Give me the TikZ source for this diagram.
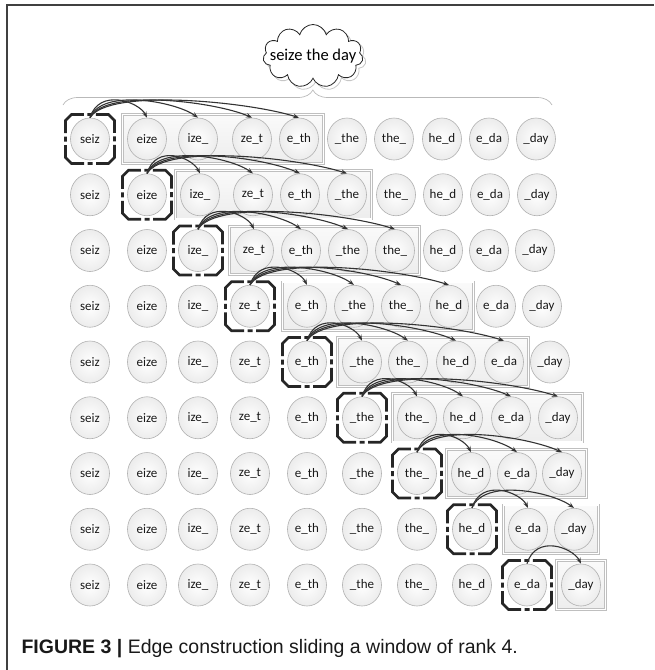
\documentclass[tikz,border=0pt]{standalone}
\usepackage{fontspec}
\setmainfont{Carlito}
\newfontfamily\capfont{Liberation Sans}
\usetikzlibrary{arrows.meta, shapes.symbols, shapes.geometric, shadows, backgrounds, fit, calc, decorations.pathreplacing}

\newcommand\gramlabel[1]{\ifcase#1\or seiz\or eize\or ize\_\or ze\_t\or e\_th\or \_the\or the\_\or he\_d\or e\_da\or \_day\fi}

\tikzset{
  gram/.style={ellipse, draw=gray!60, line width=0.6pt, inner color=white, outer color=gray!15,
    minimum width=39pt, minimum height=42pt, inner sep=0pt, text=black!90, font=\fontsize{13}{15}\selectfont},
  winbox/.style={rectangle, draw=gray!50, double=white, double distance=1.3pt, line width=0.75pt,
    top color=gray!4, bottom color=gray!14, inner xsep=5pt, inner ysep=3pt},
  focusbox/.style={draw=black!85, line width=2.8pt, dash pattern=on 5pt off 3.5pt on 33.5pt off 3.5pt, dash phase=2.5pt},
  edge/.style={draw=black!80, line width=1.1pt, -{Stealth[length=6pt,width=4.5pt]}},
}

\begin{document}
\begin{tikzpicture}[x=1pt, y=1pt]
  \useasboundingbox (0,0) rectangle (654,-670);
  % frame
  \draw[black!75, line width=1.3pt] (7,-670) -- (7,-5) -- (654,-5);

  % phrase and brace
  \node[cloud, cloud puffs=11, cloud ignores aspect, minimum width=100pt, minimum height=63pt,
    draw=black!85, line width=0.8pt, fill=white,
    general shadow={shadow xshift=3pt, shadow yshift=-3pt, draw=gray!45, fill=white, line width=0.8pt},
    label={[font=\fontsize{16.5}{18}\selectfont]center:seize the day}] (phrase) at (313,-56) {};
  \draw[gray!55, line width=0.7pt, decorate, decoration={brace, amplitude=15pt, aspect=0.511}]
    (63,-105) -- (552,-105);

  % grams, one row per window position
  \foreach \xs [count=\r] in {
      {90,147,198,252,299,347,394,442,489,536},
      {90,147,200,253,300,347,396,443,490,537},
      {90,147,198,254,301,348,395,443,489,535},
      {90,147,198,250,307,354,401,449,496,542},
      {90,147,198,250,307,362,408,456,504,550},
      {90,147,198,250,307,362,417,463,511,558},
      {90,147,198,250,307,362,417,471,517,562},
      {90,147,198,250,307,362,417,472,528,574},
      {90,147,198,250,307,362,417,472,527,581}} {
    \pgfmathsetmacro\yy{-139-55.75*(\r-1)}
    \foreach \xx [count=\c] in \xs {
      \node[gram] (n\r-\c) at (\xx,\yy) {\gramlabel{\c}};
    }
  }

  % window boxes, focus boxes and edges
  \foreach \r in {1,...,9} {
    \pgfmathtruncatemacro\first{\r+1}
    \pgfmathtruncatemacro\last{min(\r+4,10)}
    \begin{scope}[on background layer]
      \node[winbox, fit=(n\r-\first)(n\r-\last)] (win\r) {};
    \end{scope}
    \draw[focusbox] ($(n\r-\r)+(-24.5,0)$) -- ++(0,-18.5) -- ++(6,-6) -- ++(37,0) -- ++(6,6)
      -- ++(0,37) -- ++(-6,6) -- ++(-37,0) -- ++(-6,-6) -- cycle;
    \foreach \t in {\first,...,\last} {
      \pgfmathsetmacro\ja{6+3*(\t-\r)}
      \pgfmathsetmacro\jb{-8-14*(\t-\r-1)}
      \draw[edge] (n\r-\r.north) .. controls +(\ja,30) and +(\jb,16) .. (n\r-\t.north);
    }
  }

  % caption
  \node[anchor=west, text=black!90, font=\capfont\fontsize{19.5}{22}\selectfont] (caption) at (18,-649)
    {\textbf{FIGURE 3 |} Edge construction sliding a window of rank 4.};
\end{tikzpicture}
\end{document}
